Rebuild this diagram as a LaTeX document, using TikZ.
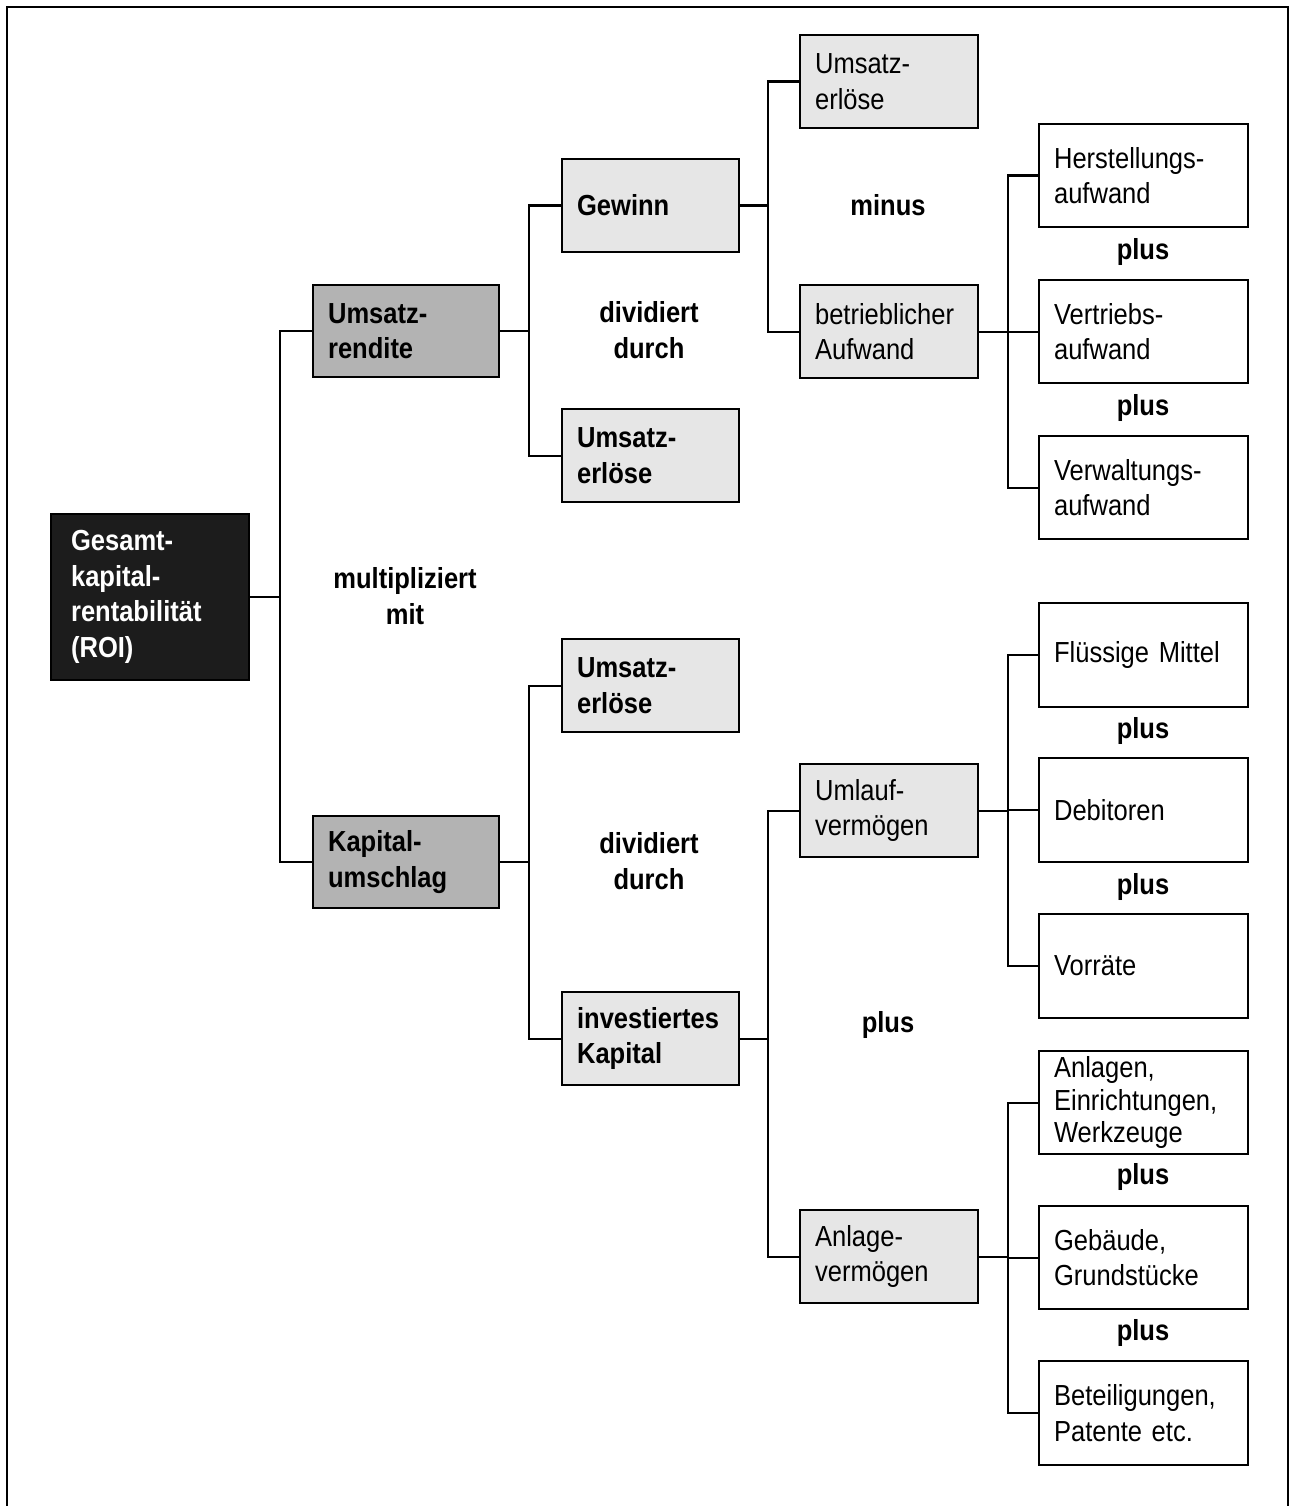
\documentclass[tikz,border=0pt]{standalone}
\usepackage{fontspec}
\setmainfont{Liberation Sans}[FakeStretch=0.88]
\begin{document}
\begin{tikzpicture}[x=1pt,y=-1pt,
  every node/.style={font=\fontsize{29}{35.5}\selectfont},
  box/.style={draw, line width=2.2pt, anchor=north west, align=left,
    inner xsep=15pt, inner ysep=0pt},
  midbox/.style={box, text width=156pt, minimum height=92pt, fill=gray70, font=\fontsize{29}{35.5}\selectfont\bfseries},
  lbox/.style={box, text width=147pt, minimum height=93pt, fill=gray90, font=\fontsize{29}{35.5}\selectfont\bfseries},
  sbox/.style={box, text width=148pt, minimum height=93pt, fill=gray90},
  wbox/.style={box, text width=179pt, minimum height=103pt, fill=white},
  op/.style={font=\fontsize{29}{35.5}\selectfont\bfseries, align=center, inner sep=0pt},
  link/.style={line width=2.2pt}
]
\definecolor{gray70}{HTML}{B3B3B3}
\definecolor{gray90}{HTML}{E6E6E6}
\definecolor{nearblack}{HTML}{1C1C1C}

\useasboundingbox (0,0) rectangle (1293,1506);
% open frame (no bottom edge)
\draw[line width=2.8pt] (7,1506) -- (7,7) -- (1288,7) -- (1288,1506);

% root
\node[box, text width=158pt, minimum height=166pt, fill=nearblack, text=white,
  inner xsep=20pt, font=\fontsize{29}{35.5}\selectfont\bfseries]
  (roi) at (50,513) {Gesamt-\\kapital-\\rentabilität\\(ROI)};

% second level
\node[midbox] (ur) at (312,284) {Umsatz-\\rendite};
\node[midbox] (ku) at (312,815) {Kapital-\\umschlag};

% third level
\node[lbox] (gew) at (561,158) {Gewinn};
\node[lbox] (ue1) at (561,408) {Umsatz-\\erlöse};
\node[lbox] (ue2) at (561,638) {Umsatz-\\erlöse};
\node[lbox] (ik)  at (561,991) {investiertes\\Kapital};

% fourth level
\node[sbox] (ue3) at (799,34)   {Umsatz-\\erlöse};
\node[sbox] (ba)  at (799,284)  {betrieblicher\\Aufwand};
\node[sbox] (ulv) at (799,763)  {Umlauf-\\vermögen};
\node[sbox] (alv) at (799,1209) {Anlage-\\vermögen};

% fifth level
\node[wbox] (her) at (1038,123)  {Herstellungs-\\aufwand};
\node[wbox] (ver) at (1038,279)  {Vertriebs-\\aufwand};
\node[wbox] (vwa) at (1038,435)  {Verwaltungs-\\aufwand};
\node[wbox, minimum height=104pt] (fm)  at (1038,602)  {Flüssige Mittel};
\node[wbox, minimum height=104pt] (deb) at (1038,757)  {Debitoren};
\node[wbox, minimum height=104pt] (vor) at (1038,913)  {Vorräte};
\node[wbox, font=\fontsize{29}{32.5}\selectfont] (anl) at (1038,1050) {Anlagen,\\Einrichtungen,\\Werkzeuge};
\node[wbox] (geb) at (1038,1205) {Gebäude,\\Grundstücke};
\node[wbox, minimum height=104pt] (bet) at (1038,1360) {Beteiligungen,\\Patente etc.};

% bus positions
\coordinate (b1) at (280,0);
\coordinate (b2) at (529,0);
\coordinate (b3) at (768,0);
\coordinate (b4) at (1008,0);

% connectors
\draw[link] (roi.east) -- (roi.east -| b1);
\draw[link] (ur.west) -| (b1 |- ku.west) -- (ku.west);

\draw[link] (ur.east) -- (ur.east -| b2);
\draw[link] (gew.west) -| (b2 |- ue1.west) -- (ue1.west);

\draw[link] (ku.east) -- (ku.east -| b2);
\draw[link] (ue2.west) -| (b2 |- ik.west) -- (ik.west);

\draw[link] (gew.east) -- (gew.east -| b3);
\draw[link] (ue3.west) -| (b3 |- ba.west) -- (ba.west);

\draw[link] (ik.east) -- (ik.east -| b3);
\draw[link] (ulv.west) -| (b3 |- alv.west) -- (alv.west);

\draw[link] (ba.east) -- (ba.east -| b4);
\draw[link] (her.west) -| (b4 |- vwa.west) -- (vwa.west);
\draw[link] (b4 |- ver.west) -- (ver.west);

\draw[link] (ulv.east) -- (ulv.east -| b4);
\draw[link] (fm.west) -| (b4 |- vor.west) -- (vor.west);
\draw[link] (b4 |- deb.west) -- (deb.west);

\draw[link] (alv.east) -- (alv.east -| b4);
\draw[link] (anl.west) -| (b4 |- bet.west) -- (bet.west);
\draw[link] (b4 |- geb.west) -- (geb.west);

% operators
\node[op] (m1) at (405,596) {multipliziert\\mit};
\node[op] (d1) at (649,330) {dividiert\\durch};
\node[op] (d2) at (649,861) {dividiert\\durch};
\node[op] (mi) at (888,205) {minus};
\node[op] (p0) at (888,1025) {plus};
\node[op] (p1) at (1143,252) {plus};
\node[op] (p2) at (1143,408) {plus};
\node[op] (p3) at (1143,731) {plus};
\node[op] (p4) at (1143,887) {plus};
\node[op] (p5) at (1143,1177) {plus};
\node[op] (p6) at (1143,1333) {plus};
\end{tikzpicture}
\end{document}
